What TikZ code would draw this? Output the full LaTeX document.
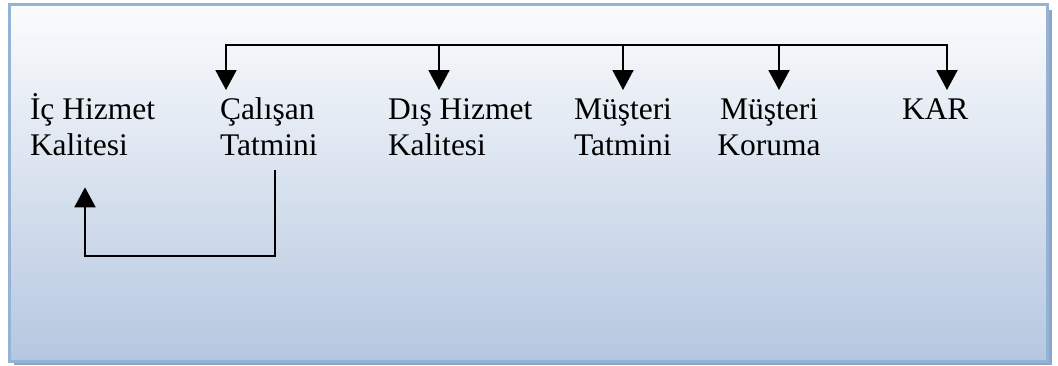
\documentclass[tikz,border=0pt]{standalone}
\usepackage{fontspec}
\setmainfont{Liberation Serif}
\usetikzlibrary{arrows.meta}
\definecolor{frameblue}{HTML}{95B3D7}
\definecolor{shadowblue}{HTML}{8FA5C6}
\definecolor{fillTop}{HTML}{FBFCFD}
\definecolor{fillMid}{HTML}{DCE4EF}
\definecolor{fillBot}{HTML}{B5C7E0}
\tikzset{
  label/.style={inner sep=0pt, outer sep=0pt, align=left,
    font=\fontsize{31.5}{36}\selectfont},
  twoline/.style={label, text height=57pt},
  oneline/.style={label, text height=21pt},
  link/.style={line width=2pt, draw=black},
  arr/.style={link, -{Triangle[length=20pt,width=21pt]}, shorten >=8pt},
}
\begin{document}
\begin{tikzpicture}[x=1pt,y=-1pt]
  \useasboundingbox (0,0) rectangle (1058,365);
  % panel with drop shadow
  \fill[shadowblue] (14,10) rectangle (1052,365);
  \shade[top color=fillTop, middle color=fillMid, bottom color=fillBot]
    (9.5,4.5) rectangle (1047.5,361.5);
  \draw[frameblue, line width=3pt] (9.5,4.5) rectangle (1047.5,361.5);

  % chain labels (base anchor sits on the last line)
  \node[twoline, anchor=base west] (ic)  at (30,155)  {İç Hizmet\\Kalitesi};
  \node[twoline, anchor=base west] (cal) at (220,155) {Çalışan\\ Tatmini};
  \node[twoline, anchor=base west] (dis) at (388,155) {Dış Hizmet\\Kalitesi};
  \node[twoline, anchor=base west] (mt)  at (574,155) {Müşteri\\ Tatmini};
  \node[twoline, anchor=base, align=center] (mk) at (769,155) {Müşteri\\Koruma};
  \node[oneline, anchor=base west] (kar) at (902,119) {KAR};

  % distribution bus along the top
  \coordinate (busL) at (226,45);
  \coordinate (busR) at (947,45);
  \coordinate (tapD) at (439,45);
  \coordinate (tapT) at (623,45);
  \coordinate (tapK) at (779,45);
  \draw[link, {Triangle[length=20pt,width=21pt]}-{Triangle[length=20pt,width=21pt]},
        shorten <=8pt, shorten >=8pt]
    (busL |- cal.north) -- (busL) -- (busR) -- (busR |- kar.north);
  \draw[arr] (tapD) -- (tapD |- dis.north);
  \draw[arr] (tapT) -- (tapT |- mt.north);
  \draw[arr] (tapK) -- (tapK |- mk.north);

  % feedback loop back to the first label
  \coordinate (loopR) at (275,256);
  \coordinate (loopL) at (85,256);
  \draw[arr, shorten <=15pt, shorten >=32pt]
    (cal.south -| loopR) -- (loopR) -- (loopL) -- (ic.south -| loopL);
\end{tikzpicture}
\end{document}
